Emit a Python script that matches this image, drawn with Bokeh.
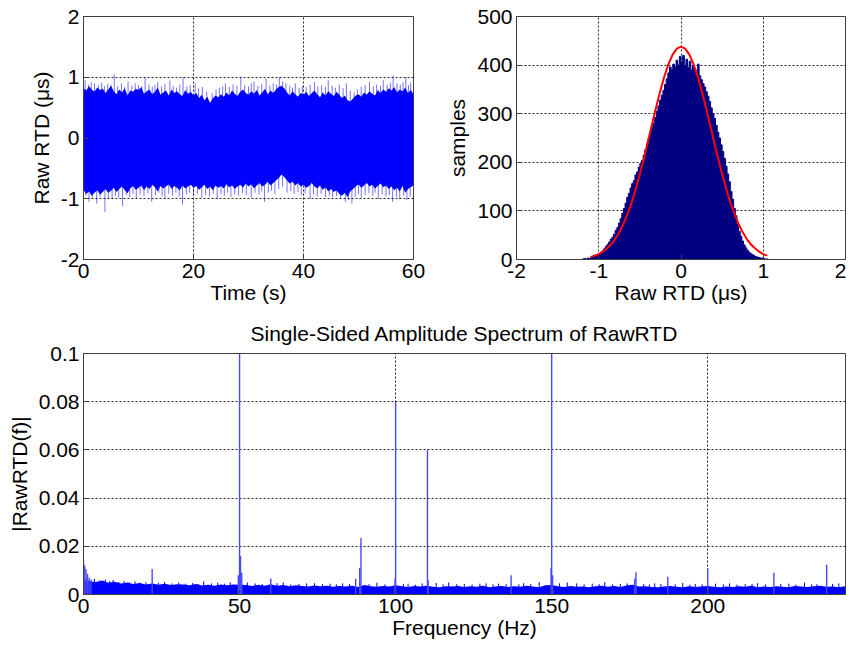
import numpy as np
from bokeh.plotting import figure
from bokeh.layouts import column, row
from bokeh.models import FixedTicker, CustomJSTickFormatter, Range1d
from bokeh.embed import file_html
from bokeh.resources import INLINE

# ---------------- data: time series (envelope read every 0.5 s) ----------------
t_step = 0.5
ts_upper = [0.82, 0.78, 0.85, 0.80, 0.76, 0.83, 0.79, 0.81, 0.74, 0.80,
            0.86, 0.77, 0.72, 0.80, 0.75, 0.82, 0.70, 0.78, 0.76, 0.81,
            0.79, 0.84, 0.73, 0.77, 0.80, 0.72, 0.76, 0.83, 0.71, 0.75,
            0.78, 0.70, 0.80, 0.74, 0.77, 0.72, 0.69, 0.79, 0.73, 0.76,
            0.70, 0.74, 0.66, 0.71, 0.62, 0.68, 0.58, 0.65, 0.70, 0.67,
            0.72, 0.68, 0.75, 0.70, 0.78, 0.73, 0.69, 0.76, 0.80, 0.74,
            0.71, 0.77, 0.73, 0.79, 0.70, 0.75, 0.81, 0.72, 0.78, 0.74,
            0.80, 0.84, 0.86, 0.82, 0.75, 0.70, 0.77, 0.72, 0.68, 0.74,
            0.71, 0.76, 0.69, 0.74, 0.78, 0.72, 0.67, 0.75, 0.70, 0.77,
            0.73, 0.69, 0.76, 0.71, 0.66, 0.70, 0.62, 0.60, 0.65, 0.70,
            0.72, 0.68, 0.75, 0.71, 0.77, 0.73, 0.70, 0.79, 0.74, 0.80,
            0.76, 0.82, 0.78, 0.84, 0.75, 0.80, 0.77, 0.83, 0.74, 0.79,
            0.72]
ts_lower = [-0.85, -0.92, -0.88, -0.95, -0.90, -0.86, -0.93, -0.89, -0.84, -0.90,
            -0.87, -0.82, -0.89, -0.84, -0.80, -0.86, -0.91, -0.83, -0.79, -0.85,
            -0.82, -0.78, -0.86, -0.80, -0.84, -0.77, -0.81, -0.88, -0.79, -0.83,
            -0.80, -0.76, -0.84, -0.79, -0.82, -0.86, -0.78, -0.83, -0.80, -0.77,
            -0.82, -0.79, -0.85, -0.81, -0.77, -0.84, -0.80, -0.86, -0.78, -0.82,
            -0.79, -0.83, -0.76, -0.81, -0.78, -0.84, -0.80, -0.77, -0.82, -0.75,
            -0.80, -0.76, -0.83, -0.78, -0.74, -0.80, -0.77, -0.72, -0.78, -0.74,
            -0.70, -0.66, -0.60, -0.64, -0.70, -0.75, -0.72, -0.78, -0.74, -0.80,
            -0.77, -0.82, -0.79, -0.74, -0.80, -0.83, -0.78, -0.85, -0.81, -0.88,
            -0.84, -0.89, -0.86, -0.92, -0.95, -0.90, -0.97, -0.88, -0.84, -0.80,
            -0.76, -0.82, -0.78, -0.74, -0.80, -0.77, -0.83, -0.79, -0.75, -0.81,
            -0.78, -0.84, -0.80, -0.86, -0.82, -0.88, -0.79, -0.90, -0.84, -0.81,
            -0.78]
up_spikes = [(0.3, .95), (0.9, .88), (1.4, .92), (2.0, .90), (2.7, .87), (3.3, .91), (3.8, .86),
             (4.4, .89), (5.0, .88), (5.6, 1.05), (6.2, .85), (6.9, .90), (7.5, .84), (8.1, .93),
             (8.8, .86), (9.4, .90), (10.0, .87), (10.6, .85), (11.2, 1.0), (11.9, .88), (12.5, .84),
             (13.0, .87), (13.5, .92), (14.2, .85), (14.8, .89), (15.7, .95), (16.3, .86), (16.9, .83),
             (17.5, .88), (18.1, 1.0), (18.8, .85), (19.4, .87), (20.3, .90), (20.9, .82), (21.6, .84),
             (22.4, .76), (23.4, .74), (24.1, .80), (24.7, .83), (25.3, .85), (25.8, .90), (26.5, .84),
             (27.2, .88), (27.9, .86), (28.6, 1.0), (29.3, .87), (30.0, .85), (30.5, .90), (31.0, .93),
             (31.7, .86), (32.4, .89), (33.2, .98), (33.9, .86), (34.5, .90), (35.1, .88), (35.6, 1.0),
             (36.2, .93), (36.8, .90), (37.5, .86), (38.0, .83), (38.5, .90), (39.2, .82), (39.8, .86),
             (40.5, .84), (41.2, .88), (42.0, .92), (42.6, .85), (43.3, .87), (44.0, .84), (44.5, .95),
             (45.2, .86), (45.8, .83), (46.5, .88), (47.2, .82), (47.8, .90), (48.5, .78), (49.2, .75),
             (49.8, .80), (50.5, .84), (51.2, .87), (52.0, .93), (52.7, .85), (53.3, .88), (54.0, .86),
             (54.5, .95), (55.2, .88), (55.8, .91), (56.3, 1.03), (57.0, .90), (57.6, .88), (58.1, .92),
             (58.6, 1.0), (59.1, .87), (59.5, .92)]
dn_spikes = [(0.4, -.95), (1.0, -1.05), (1.6, -.98), (2.4, -1.08), (3.0, -.97), (3.9, -1.22),
             (4.5, -.99), (5.2, -1.0), (5.8, -.95), (6.4, -.98), (7.1, -1.12), (7.8, -.94), (8.4, -.97),
             (9.0, -.92), (9.6, -1.0), (10.3, -.93), (11.0, -.96), (11.7, -.91), (12.4, -1.05),
             (13.1, -.94), (13.7, -.90), (14.3, -.95), (14.8, -1.0), (15.5, -.92), (16.2, -.95),
             (16.8, -.90), (17.4, -.96), (18.0, -1.10), (18.7, -.93), (19.3, -.90), (20.0, -.95),
             (20.7, -.92), (21.5, -.98), (22.2, -.94), (22.9, -.96), (23.6, -.92), (24.3, -1.0),
             (25.0, -.93), (25.6, -.95), (26.2, -.90), (26.8, -.97), (27.5, -.93), (28.2, -.95),
             (28.9, -.91), (29.6, -.94), (30.5, -.98), (31.2, -.90), (31.9, -.93), (32.4, -.88),
             (32.9, -1.05), (33.6, -.90), (34.2, -.87), (34.8, -.92), (35.5, -.84), (36.2, -.80),
             (37.0, -.90), (37.7, -.88), (38.3, -.92), (39.0, -.89), (39.6, -.94), (40.3, -.91),
             (41.2, -1.0), (41.8, -.93), (42.5, -.96), (43.2, -.92), (44.0, -.97), (44.7, -.95),
             (45.3, -.98), (46.0, -.96), (46.7, -1.0), (47.6, -1.05), (48.2, -1.02), (48.8, -1.08),
             (49.4, -.97), (50.0, -.92), (50.5, -.98), (51.2, -.94), (51.9, -.91), (52.6, -.95),
             (53.0, -.90), (53.6, -1.0), (54.3, -.93), (55.0, -.96), (55.6, -.94), (56.2, -1.05),
             (56.9, -.97), (57.5, -1.0), (58.2, -.95), (58.8, -1.02), (59.4, -.96)]

# ---------------- data: histogram (bin width 0.02 from -1.20) ----------------
hist_start = -1.20
hist_width = 0.02
hist_counts = [1, 2, 1, 3, 2, 4, 5, 6, 8, 9,
               12, 15, 18, 22, 27, 31, 36, 42, 46, 52,
               60, 66, 75, 84, 95, 105, 116, 128, 136, 147,
               156, 162, 174, 180, 190, 198, 204, 215, 226, 238,
               250, 262, 272, 280, 292, 305, 316, 328, 338, 348,
               360, 372, 384, 396, 390, 402, 396, 410, 400, 418,
               405, 420, 398, 412, 395, 408, 390, 400, 392, 385,
               402, 378, 370, 362, 355, 345, 336, 325, 312, 300,
               290, 276, 262, 250, 236, 222, 208, 192, 176, 160,
               140, 124, 105, 90, 72, 58, 48, 38, 30, 24,
               19, 15, 12, 10, 8, 6, 5, 4, 3, 3,
               2, 1, 1]
fit_x = [-1.10, -1.05, -1.00, -0.95, -0.90, -0.85, -0.80, -0.75, -0.70, -0.65, -0.60,
         -0.55, -0.50, -0.45, -0.40, -0.35, -0.30, -0.25, -0.20, -0.15, -0.10, -0.05,
         0.00, 0.05, 0.10, 0.15, 0.20, 0.25, 0.30, 0.35, 0.40, 0.45, 0.50, 0.55,
         0.60, 0.65, 0.70, 0.75, 0.80, 0.85, 0.90, 0.95, 1.00, 1.05]
fit_y = [5, 8, 11, 16, 23, 31, 42, 56, 73, 94, 117,
         145, 176, 209, 244, 280, 315, 348, 378, 403, 422, 434,
         438, 434, 422, 403, 378, 348, 315, 280, 244, 209, 176, 145,
         117, 94, 73, 56, 42, 31, 23, 16, 11, 8]

# ---------------- data: spectrum ----------------
f_step = 2.0
floor_mamp = [6.0, 5.5, 5.2, 5.8, 4.9, 5.3, 4.6, 5.0, 4.4, 4.8,
              4.2, 4.6, 4.0, 4.5, 3.9, 4.3, 4.1, 3.8, 4.4, 3.7,
              4.0, 3.6, 4.2, 3.8, 4.1, 4.0, 3.9, 3.5, 4.0, 3.6,
              4.3, 3.6, 3.9, 3.4, 3.8, 3.5, 3.3, 3.7, 3.4, 3.6,
              3.2, 3.5, 3.3, 3.6, 3.1, 3.9, 3.4, 3.2, 3.5, 3.3,
              3.8, 3.4, 3.1, 3.5, 3.3, 3.6, 3.2, 3.0, 3.4, 3.3,
              3.5, 3.1, 3.4, 3.2, 3.6, 3.0, 3.3, 3.5, 3.1, 3.4,
              3.2, 3.6, 3.3, 3.0, 3.8, 3.9, 3.4, 3.1, 3.5, 3.2,
              3.3, 3.0, 3.4, 3.6, 3.2, 3.5, 3.1, 3.7, 4.0, 3.3,
              3.4, 3.1, 3.0, 3.3, 3.5, 3.2, 3.0, 3.4, 3.1, 3.3,
              3.5, 3.2, 3.0, 3.3, 3.1, 3.4, 3.2, 3.6, 3.0, 3.3,
              3.1, 3.4, 3.2, 3.0, 3.5, 3.3, 3.1, 3.4, 3.6, 3.2,
              3.3, 3.0, 3.4]
minor_peaks = [(1.2, 7.5), (3.5, 6.5), (5.2, 5.8), (7, 6.2), (8.4, 5.5), (9.5, 6.0), (11.3, 5.2),
               (13, 5.6), (14.6, 5.0), (16.5, 5.4), (18.2, 4.9), (20, 5.1), (24, 4.8), (26, 5.2),
               (28.3, 4.6), (30.5, 5.0), (32.7, 4.5), (35, 4.8), (36.8, 4.4), (38.5, 5.4), (41, 4.6),
               (43, 4.9), (45.2, 4.5), (47, 5.1), (52.5, 5.0), (55, 4.6), (57.3, 4.3), (62, 4.7),
               (64, 5.0), (66.4, 4.2), (69, 4.4), (71.5, 4.6), (74, 4.7), (76.6, 4.3), (79, 4.5),
               (81, 4.2), (83, 4.6), (85.2, 4.4), (91.5, 4.3), (94, 4.9), (96.6, 4.2), (102.5, 4.4),
               (104, 4.5), (106.3, 4.1), (108.5, 4.6), (113, 4.8), (115.2, 4.2), (117, 5.0),
               (119.6, 4.3), (122, 4.4), (124.5, 4.1), (127, 4.5), (129, 4.6), (131.2, 4.2),
               (133, 4.5), (135.4, 4.3), (139.5, 4.2), (141, 4.7), (143.3, 4.4), (146, 5.2),
               (152.5, 4.6), (155, 5.0), (158, 4.6), (160.4, 4.2), (163, 4.5), (165.2, 4.3),
               (167, 5.1), (169.5, 4.2), (172, 4.4), (174.2, 4.6), (179.5, 4.3), (181.3, 4.1),
               (183, 4.6), (185, 4.3), (189.6, 4.2), (192, 4.8), (194.3, 4.1), (196, 4.4),
               (198.2, 4.2), (202.5, 4.5), (205, 4.2), (207, 4.6), (209.4, 4.1), (212, 4.3),
               (214.2, 4.4), (216, 4.7), (218.5, 4.2), (223.4, 4.4), (226, 4.5), (228.2, 4.1),
               (231, 4.9), (233.3, 4.2), (235, 4.3), (240, 4.4), (242, 4.6)]
peak_f = [0.0, 0.4, 0.8, 1.3, 1.8, 2.4, 22.0, 49.6, 50.0, 50.3, 50.7, 60.0,
          87.2, 88.5, 88.9, 99.8, 100.0, 110.2, 110.4, 137.0, 149.8, 150.0, 150.3,
          176.6, 177.0, 187.2, 200.0, 221.2, 238.1]
peak_amp = [0.0145, 0.012, 0.0105, 0.0085, 0.007, 0.0062, 0.0106, 0.008, 0.1, 0.016, 0.009, 0.0066,
            0.0065, 0.011, 0.0234, 0.0065, 0.08, 0.06, 0.006, 0.008, 0.011, 0.1, 0.008,
            0.0065, 0.0092, 0.0074, 0.011, 0.009, 0.0123]
f_max = 244.14

# ---------------- styling helpers ----------------
FONT = "Liberation Sans"
FS = "21px"
FRAME = "#404040"
BLUE = "#0000FF"
fmt_code = "return Number(tick.toFixed(4)).toString();"


def style(p, xticks, yticks, ylab_standoff):
    for ax, ticks in ((p.xaxis[0], xticks), (p.yaxis[0], yticks)):
        ax.ticker = FixedTicker(ticks=ticks)
        ax.formatter = CustomJSTickFormatter(code=fmt_code)
        ax.major_label_text_font = FONT
        ax.major_label_text_font_size = FS
        ax.major_label_text_color = "black"
        ax.axis_label_text_font = FONT
        ax.axis_label_text_font_size = FS
        ax.axis_label_text_font_style = "normal"
        ax.axis_label_text_color = "black"
        ax.axis_line_color = FRAME
        ax.major_tick_line_color = FRAME
        ax.major_tick_in = 5
        ax.major_tick_out = 0
        ax.minor_tick_line_color = None
        ax.major_label_standoff = 4
    p.xaxis.axis_label_standoff = 0
    p.yaxis.axis_label_standoff = ylab_standoff
    for g in (p.xgrid[0], p.ygrid[0]):
        g.grid_line_color = "black"
        g.grid_line_dash = "2 2"
        g.grid_line_width = 1
        g.grid_line_alpha = 0.85
    p.outline_line_color = FRAME
    p.outline_line_width = 1
    p.outline_line_alpha = 1
    p.background_fill_color = "white"
    p.border_fill_color = "white"


def spikes(p, pairs, alpha, scale=1.0):
    xs = [a for a, _ in pairs]
    ys = [b * scale for _, b in pairs]
    p.segment(x0=xs, y0=[0] * len(xs), x1=xs, y1=ys,
              line_color=BLUE, line_width=1, line_alpha=alpha)


# ---------------- figure 1: time series ----------------
t = np.arange(len(ts_upper)) * t_step
p1 = figure(width=433, height=309, output_backend="svg", toolbar_location=None,
            x_range=Range1d(0, 60), y_range=Range1d(-2, 2),
            min_border_left=83, min_border_right=20, min_border_top=16, min_border_bottom=50)
spikes(p1, up_spikes, 0.55)
spikes(p1, dn_spikes, 0.55)
p1.varea(x=t, y1=ts_lower, y2=ts_upper, fill_color=BLUE, fill_alpha=1)
p1.xaxis.axis_label = "Time (s)"
p1.yaxis.axis_label = "Raw RTD (μs)"
style(p1, [0, 20, 40, 60], [-2, -1, 0, 1, 2], 5)

# ---------------- figure 2: histogram ----------------
edges = hist_start + np.arange(len(hist_counts) + 1) * hist_width
hx = [edges[0]]
hy = [0]
for i, c in enumerate(hist_counts):
    hx += [edges[i], edges[i + 1]]
    hy += [c, c]
hx.append(edges[-1])
hy.append(0)
p2 = figure(width=413, height=309, output_backend="svg", toolbar_location=None,
            x_range=Range1d(-2, 2), y_range=Range1d(0, 500),
            min_border_left=83, min_border_right=1, min_border_top=16, min_border_bottom=50)
p2.patch(x=hx, y=hy, fill_color="#000080", line_color="#000080", line_width=1)
p2.line(x=fit_x, y=fit_y, line_color="#FF0000", line_width=2)
p2.xaxis.axis_label = "Raw RTD (μs)"
p2.yaxis.axis_label = "samples"
style(p2, [-2, -1, 0, 1, 2], [0, 100, 200, 300, 400, 500], 5)

# ---------------- figure 3: spectrum ----------------
ff = np.arange(len(floor_mamp)) * f_step
p3 = figure(width=846, height=333, output_backend="svg", toolbar_location=None,
            x_range=Range1d(0, f_max), y_range=Range1d(0, 0.1),
            title="Single-Sided Amplitude Spectrum of RawRTD",
            min_border_left=83, min_border_right=1, min_border_top=44, min_border_bottom=48)
p3.varea(x=ff, y1=0, y2=np.array(floor_mamp) / 1000.0, fill_color=BLUE, fill_alpha=1)
spikes(p3, minor_peaks, 1.0, scale=0.001)
p3.segment(x0=peak_f, y0=0, x1=peak_f, y1=peak_amp,
           line_color="#4848FF", line_width=1.4, line_alpha=1)
p3.xaxis.axis_label = "Frequency (Hz)"
p3.yaxis.axis_label = "|RawRTD(f)|"
p3.title.align = "center"
p3.title.text_font = FONT
p3.title.text_font_size = FS
p3.title.text_font_style = "normal"
p3.title.text_color = "black"
p3.title.standoff = 17
style(p3, [0, 50, 100, 150, 200], [0, 0.02, 0.04, 0.06, 0.08, 0.1], 5)

layout = column(row(p1, p2), p3)
open("out.html", "w").write(file_html(layout, INLINE))
